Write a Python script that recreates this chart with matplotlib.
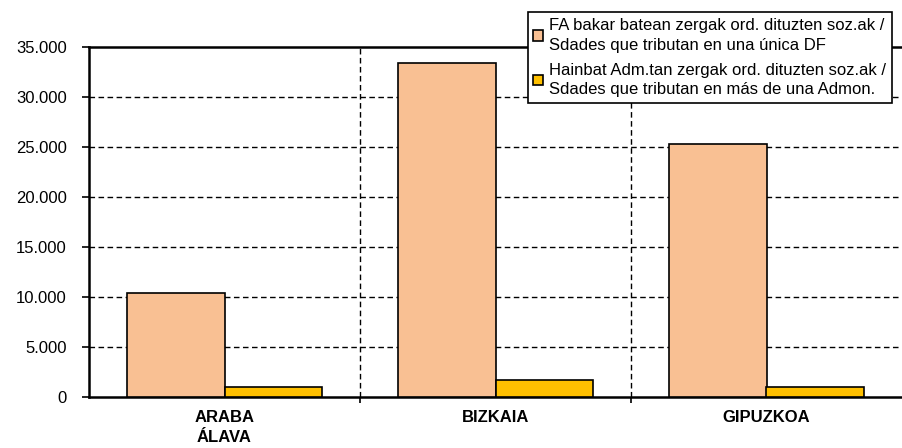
import matplotlib
matplotlib.use('Agg')
import matplotlib.pyplot as plt
import numpy as np

plt.rcParams['font.family'] = ['Liberation Sans', 'DejaVu Sans']

categories = ['ARABA\nÁLAVA', 'BIZKAIA', 'GIPUZKOA']
unica_df = [10400, 33400, 25300]
mas_admon = [1000, 1700, 1000]
labels = ['FA bakar batean zergak ord. dituzten soz.ak /\nSdades que tributan en una única DF',
          'Hainbat Adm.tan zergak ord. dituzten soz.ak /\nSdades que tributan en más de una Admon.']
yticks = [0, 5000, 10000, 15000, 20000, 25000, 30000, 35000]
ytick_labels = ['0', '5.000', '10.000', '15.000', '20.000', '25.000', '30.000', '35.000']

fig = plt.figure(figsize=(9.02, 4.48), dpi=100)
ax = fig.add_axes([89 / 902, 1 - 397 / 448, 1 - 89 / 902, (397 - 47) / 448])

x = np.arange(len(categories))
w = 0.358
ax.bar(x - w / 2, unica_df, w, color='#F9C093', edgecolor='black', linewidth=1.2, label=labels[0], zorder=3)
ax.bar(x + w / 2, mas_admon, w, color='#FFC000', edgecolor='black', linewidth=1.2, label=labels[1], zorder=3)

ax.set_xlim(-0.5, 2.5)
ax.set_ylim(0, 35000)
ax.set_yticks(yticks)
ax.set_yticklabels(ytick_labels, fontsize=12)
ax.set_xticks(x)
ax.set_xticklabels(categories, fontsize=12, fontweight='bold', linespacing=1.45)
ax.tick_params(axis='x', length=0, pad=9)
ax.tick_params(axis='y', length=5, width=1.2, direction='out', pad=11)
ax.set_xticks([0.5, 1.5], minor=True)
ax.tick_params(axis='x', which='minor', length=4, width=1.2, direction='out')

for yv in yticks[1:-1]:
    ax.axhline(yv, color='black', linestyle=(0, (4, 2.5)), linewidth=1.0, zorder=1)
for xv in [0.5, 1.5]:
    ax.axvline(xv, color='black', linestyle=(0, (4, 2.5)), linewidth=1.0, zorder=1)

ax.spines['right'].set_visible(False)
for s in ['left', 'bottom', 'top']:
    ax.spines[s].set_linewidth(1.8)

leg = ax.legend(loc='upper right', fontsize=12, frameon=True, fancybox=False, edgecolor='black', framealpha=1,
                handlelength=0.6, handleheight=0.6, handletextpad=0.35, labelspacing=0.6,
                borderpad=0.35, borderaxespad=0)
for t in leg.get_texts():
    t.set_linespacing(1.4)
leg.set_bbox_to_anchor((892 / 902, 1 - 12 / 448), transform=fig.transFigure)
leg.get_frame().set_linewidth(1.2)
leg.set_zorder(5)

fig.savefig('out.png', dpi=100)
